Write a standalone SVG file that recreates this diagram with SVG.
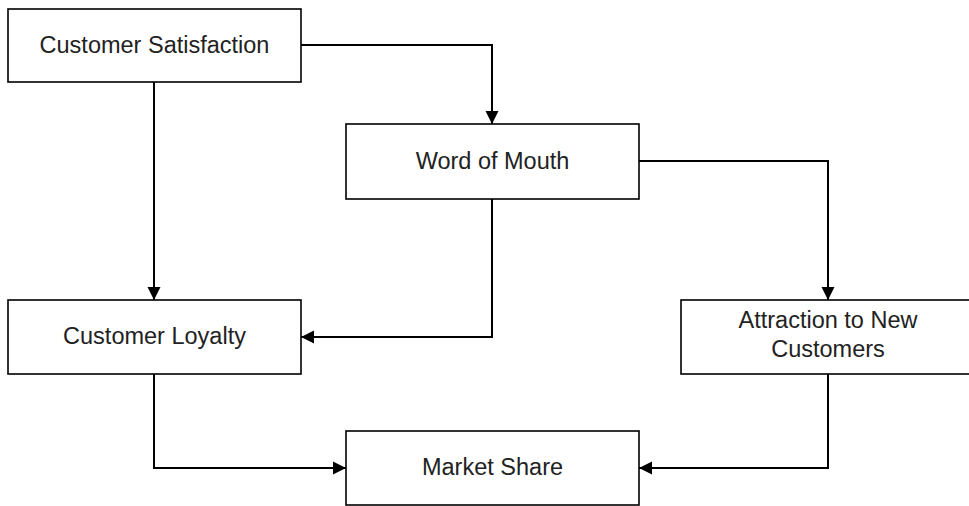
<svg xmlns="http://www.w3.org/2000/svg" width="969" height="506" viewBox="0 0 969 506">
  <defs>
    <style>
      .box { fill: #ffffff; stroke: #000000; stroke-width: 1.6; }
      .label { font-family: "Liberation Sans", Arial, sans-serif; font-size: 23.5px; fill: #222222; text-anchor: middle; }
      .edge { fill: none; stroke: #000000; stroke-width: 2; }
    </style>
    <marker id="arrow" markerUnits="userSpaceOnUse" markerWidth="14" markerHeight="14" refX="13" refY="7" orient="auto">
      <path d="M0,0.5 L13,7 L0,13.5 Z" fill="#000000"/>
    </marker>
  </defs>
  <rect width="969" height="506" fill="#ffffff"/>

  <g id="connectors">
    <path class="edge" d="M301,45 H492 V124" marker-end="url(#arrow)"/>
    <path class="edge" d="M154,82 V300" marker-end="url(#arrow)"/>
    <path class="edge" d="M639,161 H828 V300" marker-end="url(#arrow)"/>
    <path class="edge" d="M492,199 V337 H301" marker-end="url(#arrow)"/>
    <path class="edge" d="M154,374 V468 H346" marker-end="url(#arrow)"/>
    <path class="edge" d="M828,374 V468 H639" marker-end="url(#arrow)"/>
  </g>

  <g id="customer-satisfaction">
    <rect class="box" x="8" y="9" width="293" height="73"/>
    <text class="label" x="154.5" y="53">Customer Satisfaction</text>
  </g>

  <g id="word-of-mouth">
    <rect class="box" x="346" y="124" width="293" height="75"/>
    <text class="label" x="492.5" y="169">Word of Mouth</text>
  </g>

  <g id="customer-loyalty">
    <rect class="box" x="8" y="300" width="293" height="74"/>
    <text class="label" x="154.5" y="344">Customer Loyalty</text>
  </g>

  <g id="attraction-new-customers">
    <rect class="box" x="681" y="300" width="294" height="74"/>
    <text class="label" x="828" y="328">Attraction to New</text>
    <text class="label" x="828" y="357">Customers</text>
  </g>

  <g id="market-share">
    <rect class="box" x="346" y="431" width="293" height="74"/>
    <text class="label" x="492.5" y="475">Market Share</text>
  </g>
</svg>
